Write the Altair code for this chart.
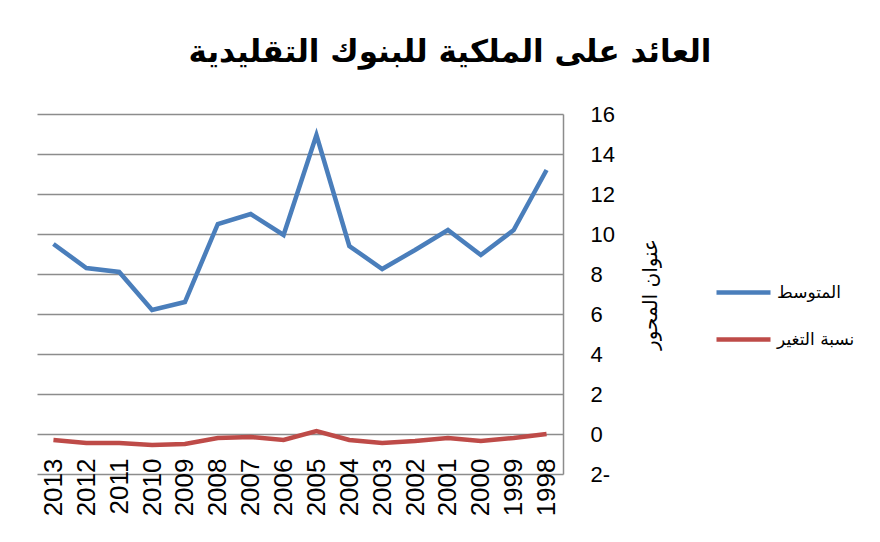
import altair as alt
import pandas as pd

# الأعوام من اليسار إلى اليمين كما في الرسم
years = ["2013", "2012", "2011", "2010", "2009", "2008", "2007", "2006",
         "2005", "2004", "2003", "2002", "2001", "2000", "1999", "1998"]

average = [9.5, 8.3, 8.1, 6.2, 6.6, 10.5, 11.0, 9.95,
           14.95, 9.4, 8.25, 9.2, 10.2, 8.95, 10.2, 13.2]

change = [-0.3, -0.45, -0.45, -0.55, -0.5, -0.2, -0.15, -0.3,
          0.15, -0.3, -0.45, -0.35, -0.2, -0.35, -0.2, 0.0]

series_names = ["المتوسط", "نسبة التغير"]
series_colors = ["#4a7ebb", "#be4b48"]

rows = []
for i, y in enumerate(years):
    rows.append({"year": y, "series": series_names[0], "value": average[i]})
    rows.append({"year": y, "series": series_names[1], "value": change[i]})
df = pd.DataFrame(rows)

chart = alt.Chart(df).mark_line(strokeWidth=4.5, strokeJoin="miter").encode(
    x=alt.X("year:O", sort=years, title=None,
            axis=alt.Axis(labelAngle=-90, labelFont="Liberation Sans", labelFontSize=26,
                          labelColor="black", domain=False, ticks=False, grid=False,
                          offset=-18, labelPadding=2)),
    y=alt.Y("value:Q", title="عنوان المحور",
            scale=alt.Scale(domain=[-2, 16], nice=False),
            axis=alt.Axis(orient="right", values=list(range(-2, 17, 2)),
                          labelExpr="datum.value < 0 ? abs(datum.value) + '-' : datum.label",
                          labelFont="Liberation Sans", labelFontSize=22, labelColor="black",
                          labelPadding=27, ticks=False, domainColor="#8c8c8c",
                          domainWidth=1.5, gridColor="#8c8c8c", gridWidth=1.3,
                          titleFont="DejaVu Sans", titleFontSize=20, titleFontWeight="normal",
                          titleAngle=270, titleColor="black", titlePadding=46)),
    color=alt.Color("series:N", title=None,
                    scale=alt.Scale(domain=series_names, range=series_colors),
                    legend=alt.Legend(orient="none", legendX=677, legendY=149,
                                      symbolType="stroke", symbolSize=2916,
                                      symbolStrokeWidth=4.5, rowPadding=8, padding=0,
                                      labelFont="DejaVu Sans", labelFontSize=17,
                                      labelColor="black", labelOffset=4)),
).properties(
    width=526,
    height=360,
    title=alt.TitleParams("العائد على الملكية للبنوك التقليدية", font="DejaVu Sans",
                          fontSize=31, fontWeight="bold", color="black",
                          dx=150, offset=34, anchor="middle"),
    autosize=alt.AutoSizeParams(type="none"),
    padding={"left": 29, "top": 106, "right": 309, "bottom": 60},
).configure_view(stroke=None)

chart.save("out.html", embed_options={"renderer": "svg", "actions": False})
